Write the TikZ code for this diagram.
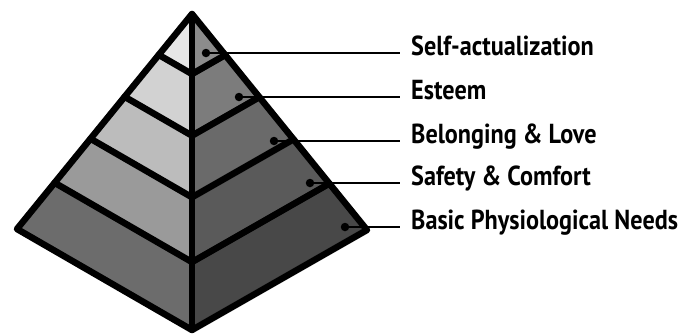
\documentclass[tikz,border=0pt]{standalone}
\usepackage{fontspec}
\newfontfamily\labfont[FakeStretch=0.88]{PT Sans}
\usetikzlibrary{calc}
\definecolor{lc1}{HTML}{E6E6E6}
\definecolor{lc2}{HTML}{D2D2D2}
\definecolor{lc3}{HTML}{BCBCBC}
\definecolor{lc4}{HTML}{9A9A9A}
\definecolor{lc5}{HTML}{6C6C6C}
\definecolor{rc1}{HTML}{8C8C8C}
\definecolor{rc2}{HTML}{7C7C7C}
\definecolor{rc3}{HTML}{6A6A6A}
\definecolor{rc4}{HTML}{5A5A5A}
\definecolor{rc5}{HTML}{484848}
\begin{document}
\begin{tikzpicture}[x=1pt,y=-1pt,
  edge/.style={line width=6.5pt,line join=round,line cap=round},
  leader/.style={line width=1.6pt},
  dotm/.style={circle,fill=black,inner sep=0pt,minimum size=8.5pt},
  lab/.style={anchor=base west,inner sep=0pt,font=\labfont\bfseries\fontsize{27.5}{30}\selectfont}]
\useasboundingbox (0,0) rectangle (686,335);
\coordinate (A) at (192,14);
\coordinate (L) at (17,229);
\coordinate (R) at (367,230);
\coordinate (B) at (192,330);
\coordinate (L0) at (A); \coordinate (B0) at (A); \coordinate (R0) at (A);
\coordinate (L5) at (L); \coordinate (B5) at (B); \coordinate (R5) at (R);
\foreach \i/\t in {1/0.19,2/0.385,3/0.58,4/0.785}{
  \coordinate (L\i) at ($(A)!\t!(L)$);
  \coordinate (B\i) at ($(A)!\t!(B)$);
  \coordinate (R\i) at ($(A)!\t!(R)$);
}
% bands
\foreach \i [evaluate=\i as \j using int(\i-1)] in {1,...,5}{
  \fill[lc\i] (L\j) -- (L\i) -- (B\i) -- (B\j) -- cycle;
  \fill[rc\i] (R\j) -- (R\i) -- (B\i) -- (B\j) -- cycle;
}
% edges
\draw[edge] (A) -- (L) -- (B) -- (R) -- cycle;
\draw[edge] (A) -- (B);
\foreach \i in {1,...,4}{
  \draw[edge] (L\i) -- (B\i) -- (R\i);
}
% dots, leaders, labels
\coordinate (lx) at (400,0);
\node[dotm] (d1) at (206,53) {};
\node[dotm] (d2) at (239,97) {};
\node[dotm] (d3) at (274,141) {};
\node[dotm] (d4) at (310,183) {};
\node[dotm] (d5) at (345,227) {};
\node[lab] (t1) at (411,55.5) {Self-actualization};
\node[lab] (t2) at (411,99.5) {Esteem};
\node[lab] (t3) at (411,143.5) {Belonging \& Love};
\node[lab] (t4) at (411,185.5) {Safety \& Comfort};
\node[lab] (t5) at (411,229.5) {Basic Physiological Needs};
\foreach \i in {1,...,5}{
  \draw[leader] (d\i.center) -- (d\i.center -| lx);
}
\end{tikzpicture}
\end{document}
